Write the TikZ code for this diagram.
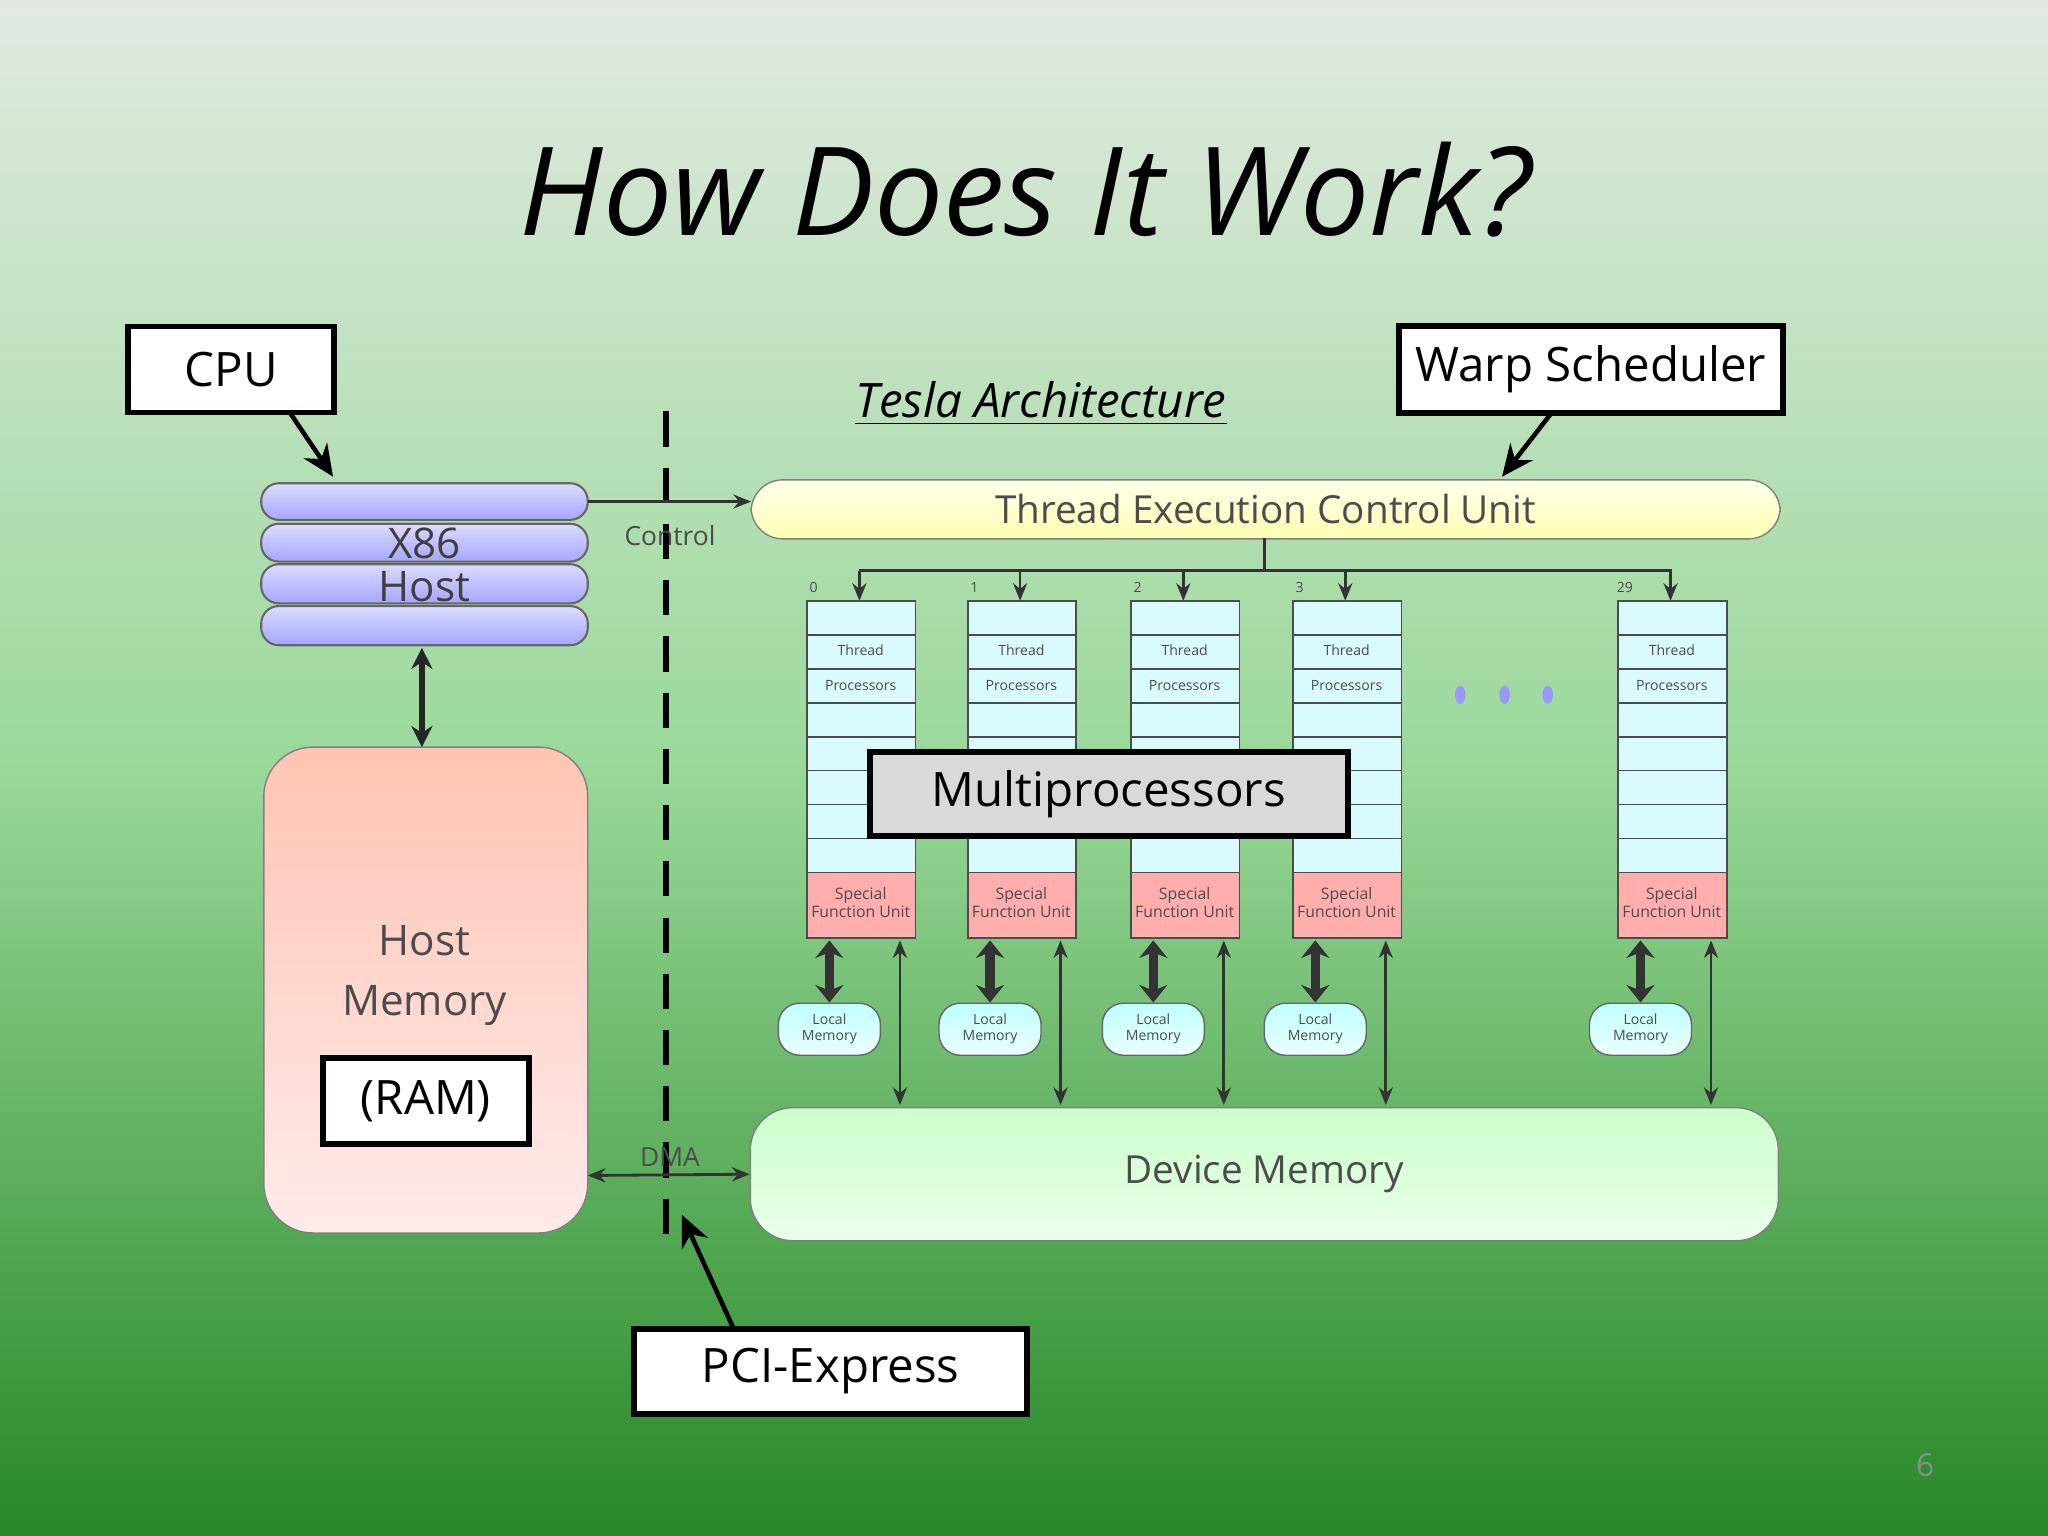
\documentclass[tikz,border=0pt]{standalone}
\usepackage{fontspec}
\setmainfont{Open Sans}
\usetikzlibrary{arrows.meta}
\begin{document}
\begin{tikzpicture}[x=0.01306cm,y=-0.01306cm,
  lbl/.style={draw=black,line width=1.6pt,fill=white,inner sep=0pt,font=\fontsize{13.5}{16}\selectfont},
  pt/.style={-{Stealth[length=9pt,width=8pt]},line width=1.3pt},
  bus/.style={-{Stealth[length=5pt,width=4pt]},line width=0.8pt,black!80},
  dbus/.style={{Stealth[length=5pt,width=4pt]}-{Stealth[length=5pt,width=4pt]},line width=0.8pt,black!80},
  fat/.style={{Stealth[length=5pt,width=8pt]}-{Stealth[length=5pt,width=8pt]},line width=2.6pt,black!80},
  bar/.style={draw=black!60,line width=0.6pt,rounded corners=5pt,top color=#1!40,bottom color=#1},
  row/.style={draw=black!70,line width=0.5pt,fill=blue!12!cyan!15},
  tiny/.style={font=\fontsize{4}{4.5}\selectfont,text=black!70,inner sep=0pt,align=center},
  gtxt/.style={font=\fontsize{11}{12}\selectfont,text=black!75,inner sep=0pt,align=center}]
% background
\shade[top color=green!15!gray!20,bottom color=green!45!black!85,middle color=green!45!gray!55!white] (0,0) rectangle (1568,1176);
\useasboundingbox (0,0) rectangle (1568,1176);
\node[font=\fontsize{35}{42}\selectfont\itshape] (title) at (785,145) {How Does It Work?};
% host side
\foreach \i/\a/\b in {1/370/398,2/401/430,3/432/462,4/464/494}
  \draw[bar=blue!35!white] (200,\a) rectangle (450,\b);
\node[gtxt,font=\fontsize{12}{12}\selectfont] (x86) at (325,416) {X86};
\node[gtxt,font=\fontsize{12}{12}\selectfont] (host) at (325,449) {Host};
\coordinate (hostbot) at (323,496);
\draw[draw=black!50,rounded corners=14pt,top color=orange!45!red!30!white,bottom color=red!8!white] (202,572) rectangle (450,944);
\coordinate (memtop) at (323,572);
\node[gtxt,font=\fontsize{12}{15}\selectfont,text=black!70] (hmem) at (325,747) {Host\\[2pt]Memory};
\node[lbl,minimum width=2.06cm,minimum height=0.86cm] (ram) at (326,843) {(RAM)};
\draw[{Stealth[length=6pt,width=6pt]}-{Stealth[length=6pt,width=6pt]},line width=1.8pt,black!85] (hostbot) -- (memtop);
% dashed PCI line
\draw[line width=1.5pt,dash pattern=on 10pt off 6pt] (510,315) -- (510,958);
% thread execution control unit
\node[draw=black!50,rounded corners=9pt,top color=yellow!8,bottom color=yellow!30,minimum width=10.29cm,minimum height=0.59cm,gtxt,text=black!70] (tecu) at (969,390) {Thread Execution Control Unit};
\coordinate (ctlin) at (575,384);
\draw[bus] (450,384) -- (ctlin);
\node[tiny,font=\fontsize{7.5}{8}\selectfont] (ctl) at (513,410) {Control};
% device memory
\node[draw=black!50,rounded corners=12pt,top color=green!20!white,bottom color=green!8!white,minimum width=10.28cm,minimum height=1.33cm,gtxt,text=black!70] (dev) at (968,899) {Device Memory};
\draw[dbus] (450,900) -- (dev.west);
\node[tiny,font=\fontsize{7.5}{8}\selectfont] (dma) at (513,886) {DMA};
% bus
\coordinate (b0) at (968,412);
\coordinate (b1) at (968,437);
\draw[line width=0.8pt,black!80] (b0) -- (b1) (658,437) -- (1280,437);
% multiprocessors
\foreach \x/\n in {618/0,741/1,866/2,990/3,1239/29}{
  \node[tiny] (n\n) at (\x+5,450) {\n};
  \foreach \k in {0,...,7}
    \draw[row] (\x,460+26*\k) rectangle (\x+83,486+26*\k);
  \node[tiny] (t\n) at (\x+41,498) {Thread};
  \node[tiny] (p\n) at (\x+41,525) {Processors};
  \draw[draw=black!70,line width=0.5pt,fill=red!20!pink!80] (\x,668) rectangle (\x+83,718);
  \node[tiny,font=\fontsize{4.5}{5}\selectfont] (s\n) at (\x+41,691) {Special\\Function Unit};
  \draw[bus] (\x+40,437) -- (\x+40,460);
  \node[draw=black!60,rounded corners=6pt,top color=cyan!25,bottom color=cyan!8,minimum width=1.02cm,minimum height=0.52cm,tiny] (lm\n) at (\x+17,788) {Local\\Memory};
  \draw[fat] (\x+17,720) -- (lm\n.north);
  \draw[dbus] (\x+71,720) -- (\x+71,846);
}
\foreach \x in {1118,1152,1185}
  \fill[blue!40!white] (\x,532) ellipse (4 and 7);
\node[draw=black,line width=1.6pt,fill=gray!30,minimum width=4.78cm,minimum height=0.84cm,font=\fontsize{13.5}{16}\selectfont] (mp) at (849,608) {Multiprocessors};
% labels
\node[font=\fontsize{13.5}{16}\selectfont\itshape] (tesla) at (797,309) {\underline{Tesla Architecture}};
\node[lbl,minimum width=2.06cm,minimum height=0.86cm] (cpu) at (177,283) {CPU};
\draw[pt] (222,316) -- (255,365);
\node[lbl,minimum width=3.84cm,minimum height=0.87cm] (warp) at (1218,283) {Warp Scheduler};
\draw[pt] (1188,316) -- (1150,365);
\node[lbl,minimum width=3.93cm,minimum height=0.85cm] (pci) at (636,1050) {PCI-Express};
\draw[pt] (562,1018) -- (522,930);
\node[text=black!45,font=\fontsize{9}{9}\selectfont] (pg) at (1474,1122) {6};
\end{tikzpicture}
\end{document}
